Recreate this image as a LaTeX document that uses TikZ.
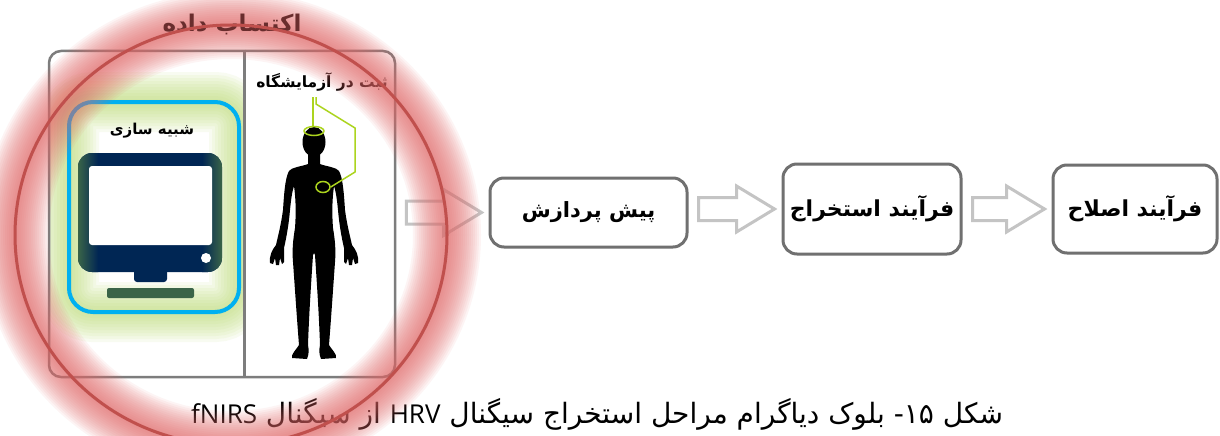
\documentclass[tikz,border=0pt]{standalone}
\usepackage{fontspec}
\usepackage{tikz}
\usetikzlibrary{calc,positioning,shapes.geometric}
\TeXXeTstate=1
\newfontfamily\farsi[Script=Arabic]{DejaVu Sans}
\newfontfamily\latinfont{Open Sans}

\definecolor{glowred}{RGB}{192,80,77}
\definecolor{glowpink}{RGB}{228,105,105}
\definecolor{glowgreen}{RGB}{190,222,120}
\definecolor{simblue}{RGB}{0,176,240}
\definecolor{monnavy}{RGB}{0,38,84}
\definecolor{monedge}{RGB}{58,100,72}
\definecolor{sensor}{RGB}{172,212,30}
\definecolor{stageline}{RGB}{112,112,112}
\definecolor{panelline}{RGB}{125,125,125}
\definecolor{arrowgray}{RGB}{196,196,196}
\definecolor{titlemaroon}{RGB}{105,45,45}

\newcommand{\fa}[1]{\beginR #1\endR}
% seta vazada entre dois blocos
\newcommand{\hollowarrow}[2]{%
  \draw[blockarrow] let \p1=($(#1.east)+(10,0)$), \p2=($(#2.west)+(-7,0)$) in
    (\x1,\y2+11.5pt) -- (\x2-38pt,\y2+11.5pt) -- (\x2-38pt,\y2+23pt) -- (\x2,\y2)
    -- (\x2-38pt,\y2-23pt) -- (\x2-38pt,\y2-11.5pt) -- (\x1,\y2-11.5pt) -- cycle;}

% silhueta: metade esquerda, espelhada depois
\def\halfbody{(314,150) -- (308,151) -- (308,164)
  .. controls (300,167) and (292,167) .. (289,171)
  .. controls (285,178) and (284,195) .. (283,210)
  .. controls (281,225) and (278,236) .. (276,245)
  .. controls (272,250) and (269,256) .. (270,263)
  -- (273,264) -- (275,258) -- (276,265) -- (279,265) -- (280,258) -- (282,264) -- (284,262)
  .. controls (284,257) and (284,252) .. (284,248)
  .. controls (287,235) and (289,222) .. (290,210)
  .. controls (291,200) and (292,192) .. (294,186)
  .. controls (296,200) and (296,215) .. (295,228)
  .. controls (293,240) and (292,250) .. (293,262)
  .. controls (295,290) and (297,320) .. (299,345)
  .. controls (296,350) and (291,354) .. (292,358)
  -- (307,359)
  .. controls (309,354) and (309,350) .. (308,345)
  .. controls (309,315) and (311,285) .. (313,255)
  -- (314,253) -- cycle}

\begin{document}
\begin{tikzpicture}[x=1pt, y=-1pt,
  stage/.style={draw=stageline, line width=3pt, rounded corners=14pt, fill=white,
    font=\farsi\bfseries\fontsize{#1}{26}\selectfont, inner sep=0pt},
  blockarrow/.style={draw=arrowgray, line width=3pt},
  paneltitle/.style={font=\farsi\bfseries\fontsize{#1}{18}\selectfont, inner sep=0pt},
  sensorring/.style={draw=sensor, line width=1.5pt, ellipse, inner sep=0pt}]

  \useasboundingbox[fill=white] (0,0) rectangle (1220,436);

  % brilho verde do painel de simulacao
  \begin{scope}
    \clip (49,51) rectangle (244,377);
    \foreach \w in {60,54,...,6}
      \draw[glowgreen, opacity=0.1, line width=\w pt, rounded corners=24pt] (69,102) rectangle (239,312);
  \end{scope}

  % caixa de aquisicao
  \node[draw=panelline, line width=2.5pt, rounded corners=12pt,
        minimum width=346pt, minimum height=326pt] (acq) at (222,214) {};
  \draw[panelline, line width=2.5pt] ($(acq.north west)!0.564!(acq.north east)$)
    -- ($(acq.south west)!0.564!(acq.south east)$);

  % simulacao
  \node[draw=simblue, line width=4pt, rounded corners=24pt,
        minimum width=170pt, minimum height=210pt] (simbox) at (154,207) {};
  \node[paneltitle=15] (simtitle) at (152,131) {\fa{شبیه سازی}};
  \fill[monnavy, rounded corners=14pt] (78,153) rectangle (222,272);
  \begin{scope}
    \clip[rounded corners=14pt] (78,153) rectangle (222,272);
    \shade[left color=monedge, right color=monnavy] (78,153) rectangle (98,272);
    \shade[left color=monnavy, right color=monedge] (202,153) rectangle (222,272);
  \end{scope}
  \fill[white, rounded corners=3pt] (89,166) rectangle (212,245);
  \fill[white] (206,258) circle (5);
  \fill[monnavy, rounded corners=3pt] (134,268) rectangle (167,282);
  \fill[monedge, rounded corners=2pt] (107,288) rectangle (194,298);

  % ثبت در آزمایشگاه
  \node[paneltitle=15.5] (labtitle) at (322,82) {\fa{ثبت در آزمایشگاه}};
  \fill[black] (314,142) ellipse [x radius=11.5pt, y radius=15pt];
  \fill[black] \halfbody;
  \fill[black, shift={(628,0)}, xscale=-1] \halfbody;
  \node[sensorring, minimum width=20pt, minimum height=9pt] (headring) at (314,131) {};
  \node[sensorring, minimum width=14pt, minimum height=11pt] (chestring) at (323,187) {};
  \coordinate (lead) at (314,97);
  \draw[sensor, line width=1.5pt] ([xshift=-1pt]lead) -- ([xshift=-1pt]headring.north);
  \draw[sensor, line width=1.5pt] ([xshift=2pt]lead) -- ++(0,7) -- (355,128) -- (355,172) -- (chestring.east);

  % etapas
  \node[stage=21, minimum width=197pt, minimum height=69pt] (pre) at (588.5,212.5) {\fa{پیش پردازش}};
  \node[stage=22, minimum width=178pt, minimum height=90pt] (ext) at (872,209) {\fa{فرآیند استخراج}};
  \node[stage=22, minimum width=164pt, minimum height=88pt] (cor) at (1135,209) {\fa{فرآیند اصلاح}};

  \hollowarrow{acq}{pre}
  \hollowarrow{pre}{ext}
  \hollowarrow{ext}{cor}

  % legenda
  \node[font=\farsi\fontsize{28}{32}\selectfont, inner sep=0pt, anchor=base] (cap) at (597,423)
    {\fa{شکل ۱۵\kern0pt- بلوک دیاگرام مراحل استخراج سیگنال \beginL{\latinfont\fontsize{26}{30}\selectfont HRV}\endL{} از سیگنال \beginL{\latinfont\fontsize{26}{30}\selectfont fNIRS}\endL}};

  % circulo vermelho com brilho
  \coordinate (ring) at (231,235);
  \foreach \w in {68,64,...,4}
    \draw[glowpink, opacity=0.07, line width=\w pt] (ring) ellipse [x radius=216pt, y radius=210pt];
  \node[font=\farsi\bfseries\fontsize{23}{26}\selectfont, text=titlemaroon, inner sep=0pt]
    (acqtitle) at (232,24) {\fa{اکتساب داده}};
  \draw[glowred, line width=3pt] (ring) ellipse [x radius=216pt, y radius=210pt];
\end{tikzpicture}
\end{document}
